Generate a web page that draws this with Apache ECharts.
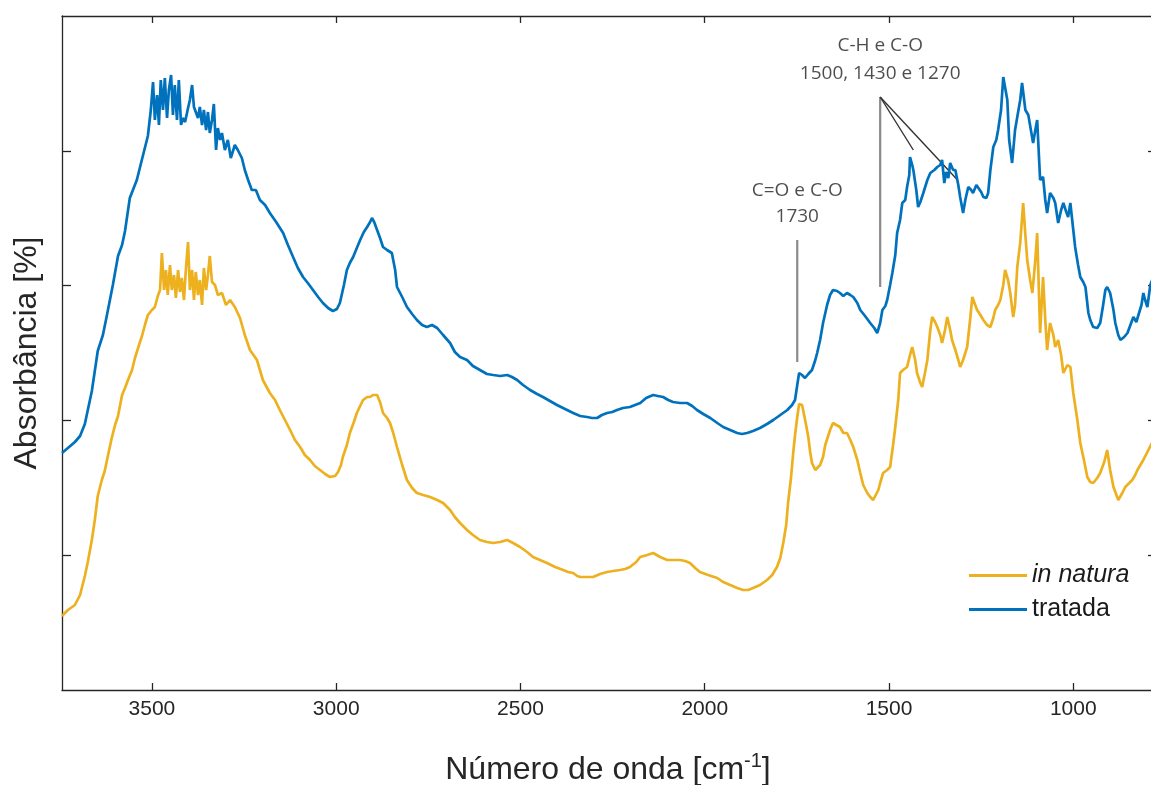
<!DOCTYPE html>
<html>
<head>
<meta charset="utf-8">
<script src="https://cdn.jsdelivr.net/npm/echarts@6/dist/echarts.min.js"></script>
<style>html,body{margin:0;padding:0;background:#fff}#c{width:1151px;height:785px}</style>
</head>
<body>
<div id="c"></div>
<script>
// Wavenumbers (cm^-1) and absorbance (arbitrary units, axis 0..674)
const ondaTratada = [3744,3728,3709,3695,3682,3663,3647,3633,3622,3606,3592,3581,3573,3560,3541,3524,3511,3503,3497,3492,3486,3481,3476,3470,3465,3459,3454,3448,3443,3438,3432,3427,3421,3416,3410,3402,3397,3391,3386,3381,3375,3370,3364,3359,3353,3348,3343,3337,3332,3326,3321,3315,3310,3302,3294,3286,3275,3267,3256,3248,3239,3229,3218,3207,3193,3180,3163,3144,3131,3117,3104,3090,3077,3063,3049,3036,3022,3009,2998,2990,2979,2971,2963,2954,2944,2935,2925,2916,2908,2903,2897,2889,2881,2873,2862,2849,2840,2835,2821,2808,2794,2781,2767,2754,2740,2726,2710,2691,2678,2664,2645,2629,2610,2591,2574,2555,2536,2523,2509,2493,2474,2455,2439,2420,2401,2379,2357,2338,2319,2306,2292,2279,2265,2251,2238,2222,2203,2189,2175,2159,2140,2127,2113,2099,2086,2067,2048,2034,2021,2004,1985,1966,1950,1931,1912,1899,1885,1869,1850,1831,1814,1795,1776,1763,1755,1749,1744,1736,1728,1719,1709,1700,1695,1687,1679,1668,1660,1652,1641,1633,1624,1614,1605,1597,1586,1578,1565,1551,1540,1532,1524,1518,1510,1505,1497,1491,1483,1478,1470,1464,1456,1451,1445,1443,1437,1434,1426,1421,1415,1407,1396,1388,1377,1369,1361,1356,1350,1345,1339,1334,1326,1320,1312,1307,1299,1293,1285,1277,1272,1263,1258,1250,1244,1236,1231,1225,1217,1209,1204,1196,1190,1185,1179,1174,1166,1158,1152,1144,1139,1130,1122,1117,1109,1103,1098,1090,1082,1076,1071,1063,1054,1049,1041,1033,1027,1019,1014,1008,1000,995,987,981,973,967,959,954,946,935,927,919,913,908,900,891,886,878,872,862,853,845,837,829,824,815,810,805,799,791,786];
const absTratada = [237,242,248,254,266,299,339,355,375,405,434,445,459,492,510,535,554,580,608,570,595,565,610,580,612,572,600,615,575,605,570,610,565,572,568,582,590,605,583,578,572,583,565,580,560,578,557,570,586,540,562,550,557,540,550,532,545,540,532,520,510,500,500,490,485,477,468,457,445,433,422,413,407,400,393,387,382,379,381,387,405,420,427,433,442,450,458,463,468,472,468,460,452,443,440,437,420,403,393,383,376,370,365,363,365,362,355,347,338,333,330,324,320,316,315,314,315,313,310,305,300,296,293,289,285,281,277,274,273,272,272,275,277,278,280,282,283,285,287,292,295,294,293,290,288,287,287,284,280,276,272,267,263,260,257,256,257,259,262,266,270,275,280,285,290,305,317,315,312,316,320,330,337,350,367,385,395,400,399,397,394,397,395,393,387,380,374,367,362,357,367,380,384,390,405,417,435,457,470,487,490,503,515,533,525,520,500,483,488,497,510,517,520,523,525,530,507,518,512,527,520,520,505,493,477,490,503,500,497,505,507,498,493,492,497,520,543,550,560,580,613,613,590,550,527,560,573,590,607,580,575,573,547,560,570,510,513,490,477,497,492,487,467,480,487,478,473,487,460,443,425,413,408,403,377,370,363,362,367,385,400,403,397,380,367,355,350,353,357,365,373,368,367,385,397,390,383,405,410];

const ondaNatura = [3744,3728,3709,3695,3682,3674,3663,3655,3647,3636,3628,3619,3609,3600,3592,3581,3573,3565,3554,3546,3535,3527,3519,3511,3500,3492,3484,3478,3473,3467,3462,3457,3451,3446,3440,3435,3429,3424,3419,3413,3408,3402,3397,3391,3386,3381,3375,3370,3364,3359,3353,3348,3343,3337,3329,3321,3310,3299,3288,3275,3261,3248,3234,3215,3199,3180,3166,3153,3139,3125,3112,3098,3085,3071,3058,3044,3030,3017,3003,2995,2987,2982,2971,2963,2952,2944,2935,2927,2916,2908,2900,2889,2881,2873,2862,2854,2846,2835,2821,2808,2794,2781,2764,2745,2726,2710,2691,2678,2664,2645,2629,2610,2591,2574,2555,2536,2520,2501,2482,2466,2447,2428,2406,2384,2371,2357,2346,2338,2319,2303,2284,2265,2249,2230,2216,2203,2186,2175,2156,2140,2121,2102,2086,2067,2053,2040,2026,2013,1991,1966,1950,1931,1912,1896,1882,1869,1850,1831,1817,1804,1795,1787,1779,1774,1766,1760,1755,1749,1744,1741,1736,1733,1725,1719,1714,1709,1700,1695,1687,1679,1673,1668,1660,1652,1643,1633,1624,1614,1605,1597,1586,1578,1570,1559,1551,1543,1538,1529,1524,1516,1505,1497,1489,1483,1475,1470,1462,1451,1443,1437,1429,1424,1415,1410,1402,1396,1388,1383,1375,1369,1361,1356,1348,1342,1334,1329,1320,1312,1307,1299,1288,1280,1274,1266,1261,1252,1244,1234,1225,1217,1212,1204,1198,1190,1185,1177,1171,1163,1158,1152,1144,1136,1130,1125,1117,1111,1103,1098,1090,1082,1076,1071,1063,1054,1049,1041,1033,1027,1016,1008,1000,989,981,970,962,954,946,935,927,916,908,900,891,883,878,867,859,848,840,832,826,818,810,799,791,786];
const absNatura = [74,80,85,95,114,128,150,170,194,210,219,235,252,265,274,295,302,310,320,332,345,354,365,375,380,383,394,400,437,400,420,395,425,400,415,392,420,398,412,390,420,448,400,420,390,418,395,410,385,422,400,415,434,408,405,395,397,385,390,383,372,355,340,330,310,297,290,280,270,260,250,243,235,230,224,220,216,213,214,218,225,233,245,257,268,277,284,290,293,293,295,295,288,277,272,267,258,243,225,210,202,197,195,193,190,187,180,173,167,160,155,150,148,147,148,150,147,143,138,133,130,127,123,120,118,117,114,113,113,113,116,118,119,120,121,123,128,133,135,137,133,130,130,130,129,127,122,118,115,112,108,105,102,100,100,102,105,110,115,123,132,147,165,187,212,237,255,273,286,288,285,280,265,253,238,227,220,220,225,233,245,247,260,267,265,263,257,257,250,243,230,217,205,197,193,190,192,200,207,217,220,223,245,263,290,317,320,323,335,343,330,317,307,303,318,330,360,373,368,363,355,347,360,373,360,350,340,330,323,330,343,370,393,385,380,375,370,365,363,372,380,385,390,405,420,410,397,373,385,423,447,487,455,430,410,397,430,457,357,413,370,340,367,355,343,350,335,317,325,323,297,270,247,228,213,208,207,212,217,228,240,220,203,195,190,197,203,207,210,215,220,225,230,238,244,247];

const xTicks = [1000, 1500, 2000, 2500, 3000, 3500];
const yTicks = [134.8, 269.6, 404.4, 539.2];
const xRange = [781, 3744];
const yRange = [0, 674];

// annotation anchors (data units)
const noteCO = { text: 'C=O e C-O\n1730', at: [1749, 486], line: [[1749, 450], [1749, 328]] };
const noteCH = { text: 'C-H e C-O\n1500, 1430 e 1270', at: [1524, 630],
  lines: [[[1524, 593], [1524, 403]], [[1524, 593], [1434, 540]], [[1524, 593], [1314, 510]]] };

function zip(xs, ys) { return xs.map((x, i) => [x, ys[i]]); }

const chart = echarts.init(document.getElementById('c'), null, { renderer: 'canvas' });
const axisColor = '#262626';
const font = 'Liberation Sans, Arial, sans-serif';
const noteFont = 'Open Sans, sans-serif';

const baseX = {
  type: 'value', inverse: true, min: xRange[0], max: xRange[1],
  splitLine: { show: false },
  axisLine: { show: true, onZero: false, lineStyle: { color: axisColor, width: 1.3 } },
};
const baseY = {
  type: 'value', min: yRange[0], max: yRange[1],
  splitLine: { show: false },
  axisLine: { show: true, onZero: false, lineStyle: { color: axisColor, width: 1.3 } },
};

const series = [
  { name: 'in natura', type: 'line', data: zip(ondaNatura, absNatura), showSymbol: false, symbol: 'none',
    lineStyle: { color: '#EDB120', width: 2.7 }, itemStyle: { color: '#EDB120' }, z: 3 },
  { name: 'tratada', type: 'line', data: zip(ondaTratada, absTratada), showSymbol: false, symbol: 'none',
    lineStyle: { color: '#0072BD', width: 2.7 }, itemStyle: { color: '#0072BD' }, z: 3 },
  { type: 'line', data: noteCO.line, symbol: 'none', silent: true,
    lineStyle: { color: '#8a8a8a', width: 2.2 }, z: 2 },
  { type: 'line', data: noteCH.lines[0], symbol: 'none', silent: true,
    lineStyle: { color: '#8a8a8a', width: 2.2 }, z: 2 },
  { type: 'line', data: noteCH.lines[1], symbol: 'none', silent: true,
    lineStyle: { color: '#333', width: 1.4 }, z: 2 },
  { type: 'line', data: noteCH.lines[2], symbol: 'none', silent: true,
    lineStyle: { color: '#333', width: 1.4 }, z: 2 },
  { type: 'scatter', silent: true, symbolSize: 0,
    data: [
      { value: noteCO.at, label: { formatter: noteCO.text, lineHeight: 26 } },
      { value: noteCH.at, label: { formatter: noteCH.text, lineHeight: 28 } }
    ],
    label: { show: true, position: 'inside', color: '#1f1f1f', fontFamily: noteFont, fontSize: 19, align: 'center' },
    z: 4 }
];

chart.setOption({
  animation: false,
  backgroundColor: '#fff',
  grid: { left: 62, top: 16, width: 1092, height: 674, containLabel: false, outerBoundsMode: 'none' },
  legend: {
    data: ['in natura', 'tratada'],
    orient: 'vertical', left: 964, top: 558,
    icon: 'rect', itemWidth: 58, itemHeight: 3, itemGap: 9,
    textStyle: { fontFamily: font, fontSize: 25, color: '#1a1a1a',
      rich: { i: { fontStyle: 'italic', fontFamily: font, fontSize: 25, color: '#1a1a1a' } } },
    formatter: n => n === 'in natura' ? '{i|in natura}' : n
  },
  xAxis: [
    Object.assign({}, baseX, {
      position: 'bottom',
      axisTick: { show: true, inside: true, length: 7, customValues: xTicks, lineStyle: { color: axisColor, width: 1.3 } },
      axisLabel: { show: true, customValues: xTicks, margin: 9, fontFamily: font, fontSize: 21, color: '#262626',
        formatter: v => String(v) },
      name: 'Número de onda [cm{sup|-1}]', nameLocation: 'middle', nameGap: 61,
      nameTextStyle: { fontFamily: font, fontSize: 32, color: '#262626',
        rich: { sup: { fontFamily: font, fontSize: 20, color: '#262626', padding: [0, 0, 19, 0] } } }
    }),
    Object.assign({}, baseX, {
      position: 'top',
      axisTick: { show: true, inside: true, length: 7, customValues: xTicks, lineStyle: { color: axisColor, width: 1.3 } },
      axisLabel: { show: false }
    })
  ],
  yAxis: [
    Object.assign({}, baseY, {
      position: 'left',
      axisTick: { show: true, inside: true, length: 9, customValues: yTicks, lineStyle: { color: axisColor, width: 1.3 } },
      axisLabel: { show: false },
      name: 'Absorbância [%]', nameLocation: 'middle', nameGap: 19, nameRotate: 90,
      nameTextStyle: { fontFamily: font, fontSize: 32, color: '#262626' }
    }),
    Object.assign({}, baseY, {
      position: 'right',
      axisTick: { show: true, inside: true, length: 6, customValues: yTicks, lineStyle: { color: axisColor, width: 1.3 } },
      axisLabel: { show: false }
    })
  ],
  series: series
});
</script>
</body>
</html>
